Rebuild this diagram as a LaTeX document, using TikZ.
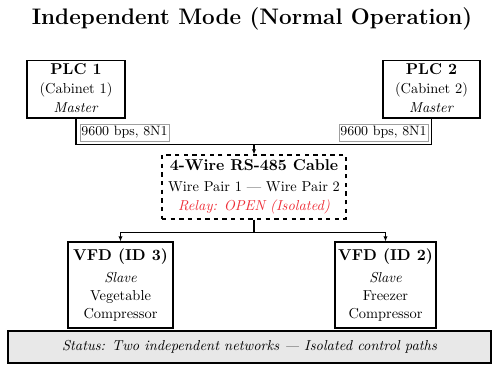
\documentclass[tikz,border=0pt]{standalone}
\usetikzlibrary{arrows.meta}
\definecolor{relayred}{RGB}{238,45,55}
\newcommand\hd[1]{{\fontsize{10.9}{12.5}\selectfont\bfseries #1}}
\tikzset{
  box/.style={draw, line width=0.8pt, align=center, inner sep=0pt,
    font=\fontsize{10}{12.5}\selectfont},
  plcbox/.style={box, font=\fontsize{10}{12.8}\selectfont, text height=35.7pt,
    text depth=4.1pt},
  lab/.style={draw=gray!75, fill=white, line width=0.5pt, inner sep=0pt,
    minimum width=61.8pt, minimum height=11.8pt, font=\fontsize{9.4}{11}\selectfont},
  stat/.style={draw, line width=0.8pt, fill=gray!18, minimum width=335.4pt,
    minimum height=22.2pt, inner sep=0pt, font=\itshape},
  conn/.style={line width=0.7pt},
  arr/.style={conn, -{Latex[length=3.5pt,width=3pt]}},
}
\begin{document}
\begin{tikzpicture}[x=0.69444pt, y=-0.69444pt]
\useasboundingbox (0,0) rectangle (492,365);
\node[anchor=base, font=\fontsize{15.6}{18}\selectfont\bfseries] (title) at (252,25) {Independent Mode (Normal Operation)};
\node[plcbox, minimum width=68pt] (plc1) at (76,89.3) {\hd{PLC 1}\\[0.5pt](Cabinet 1)\\\textit{Master}};
\node[plcbox, minimum width=67.4pt] (plc2) at (431.5,89.3) {\hd{PLC 2}\\[0.5pt](Cabinet 2)\\\textit{Master}};
\node[lab] (lab1) at (124.5,132.5) {9600 bps, 8N1};
\node[lab] (lab2) at (383.5,132.5) {9600 bps, 8N1};
\node[box, dashed, minimum width=127.8pt, minimum height=44.4pt] (cable) at (254,187) {\hd{4-Wire RS-485 Cable}\\[2pt]Wire Pair 1 — Wire Pair 2\\[1pt]\textcolor{relayred}{\textit{Relay: OPEN (Isolated)}}};
\node[box, minimum width=72.9pt, minimum height=59.7pt] (vfd1) at (120.5,285) {\hd{VFD (ID 3)}\\[3pt]\textit{Slave}\\Vegetable\\Compressor};
\node[box, minimum width=70.1pt, minimum height=59.7pt] (vfd2) at (385.5,285) {\hd{VFD (ID 2)}\\[3pt]\textit{Slave}\\Freezer\\Compressor};
\node[stat] (status) at (249.5,347) {Status: Two independent networks — Isolated control paths};
\coordinate (jtop) at (254,145);
\coordinate (jbot) at (254,233);
\draw[conn] (plc1.south) |- (jtop);
\draw[conn] (plc2.south) |- (jtop);
\draw[arr] (jtop) -- (cable.north);
\draw[conn] (cable.south) -- (jbot);
\draw[arr] (jbot) -| (vfd1.north);
\draw[arr] (jbot) -| (vfd2.north);
\end{tikzpicture}
\end{document}
